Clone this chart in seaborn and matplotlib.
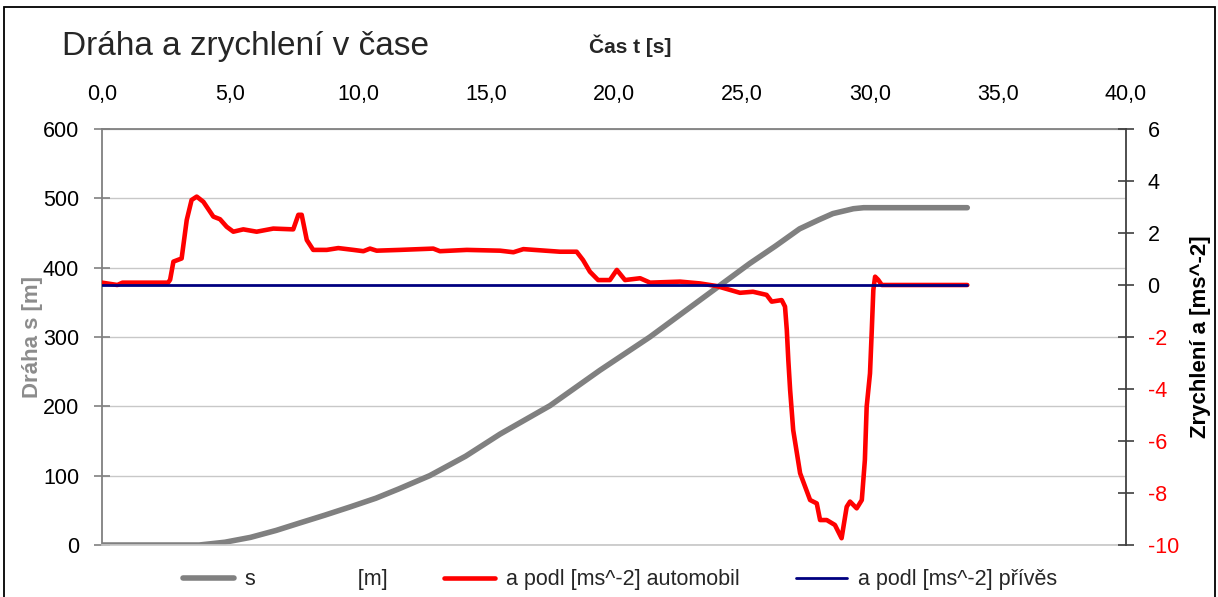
import matplotlib
matplotlib.use("Agg")
import matplotlib.pyplot as plt
import matplotlib.patches as patches
from matplotlib.ticker import FuncFormatter, MultipleLocator
import seaborn as sns
import pandas as pd

# ---- data ----
t_s = [0, 3.8, 4.8, 5.8, 6.8, 7.7, 8.7, 9.7, 10.7, 11.6, 12.8, 14.2, 15.55,
       17.5, 19.45, 21.4, 23.35, 25.3, 26.3, 27.25, 28.0, 28.55, 29.35, 29.75, 33.8]
s_m = [0, 0, 4, 11, 21, 31.5, 43, 55, 67.5, 81, 100, 128, 160,
       201, 252, 300, 353, 406, 431, 456, 469, 478, 485, 486.5, 486.5]

t_a = [0, 0.6, 0.8, 2.58, 2.66, 2.79, 3.11, 3.31, 3.50, 3.70, 3.96, 4.35, 4.61,
       4.87, 5.13, 5.52, 6.04, 6.69, 7.47, 7.67, 7.80, 8.00, 8.25, 8.78, 9.23,
       9.82, 10.21, 10.47, 10.73, 11.64, 12.94, 13.2, 14.25, 15.55, 16.07, 16.46,
       17.89, 18.54, 18.79, 19.06, 19.38, 19.84, 20.11, 20.43, 21.02, 21.41,
       22.58, 23.36, 24.01, 24.92, 25.43, 25.96, 26.16, 26.55, 26.68, 26.75,
       26.81, 26.88, 27.00, 27.27, 27.66, 27.92, 28.05, 28.31, 28.63, 28.89,
       29.09, 29.22, 29.48, 29.68, 29.80, 29.87, 30.0, 30.07, 30.13, 30.2,
       30.32, 30.46, 33.8]
a_auto = [0.09, 0.0, 0.09, 0.09, 0.2, 0.9, 1.02, 2.5, 3.27, 3.4, 3.2, 2.63, 2.53,
          2.24, 2.05, 2.14, 2.05, 2.17, 2.14, 2.7, 2.7, 1.73, 1.35, 1.35, 1.42,
          1.35, 1.30, 1.40, 1.32, 1.35, 1.40, 1.3, 1.35, 1.32, 1.26, 1.38,
          1.28, 1.28, 0.96, 0.51, 0.19, 0.19, 0.58, 0.19, 0.26, 0.09,
          0.13, 0.06, -0.04, -0.3, -0.26, -0.38, -0.64, -0.58, -0.83, -1.73,
          -2.9, -4.04, -5.58, -7.24, -8.27, -8.4, -9.04, -9.04, -9.23, -9.74,
          -8.53, -8.33, -8.59, -8.27, -6.73, -4.68, -3.4, -1.73, -0.19, 0.32,
          0.2, 0.0, 0.0]

t_b = [0, 33.8]
a_privs = [0, 0]

x_ticks = [0, 5, 10, 15, 20, 25, 30, 35, 40]

title = "Dráha a zrychlení v čase"
x_label = "Čas t [s]"
y_left_label = "Dráha s [m]"
y_right_label = "Zrychlení a [ms^-2]"
leg_s = "s" + " " * 17 + "[m]"
leg_auto = "a podl [ms^-2] automobil"
leg_priv = "a podl [ms^-2] přívěs"

# ---- styling ----
sns.set_theme(style="white")
plt.rcParams["font.family"] = ["Liberation Sans", "DejaVu Sans"]
plt.rcParams["axes.unicode_minus"] = False

W, H = 1218, 597
fig = plt.figure(figsize=(W / 100, H / 100), dpi=100)
ax = fig.add_axes([102 / W, 1 - 545 / H, (1126 - 102) / W, (545 - 129) / H])
ax2 = ax.twinx()

df_s = pd.DataFrame({"t": t_s, "s": s_m})
df_a = pd.DataFrame({"t": t_a, "a": a_auto})
df_b = pd.DataFrame({"t": t_b, "a": a_privs})

sns.lineplot(data=df_s, x="t", y="s", ax=ax, color="#808080", lw=4,
             estimator=None, sort=False, legend=False)
sns.lineplot(data=df_a, x="t", y="a", ax=ax2, color="#ff0000", lw=3.3,
             estimator=None, sort=False, legend=False)
sns.lineplot(data=df_b, x="t", y="a", ax=ax2, color="#000080", lw=2,
             estimator=None, sort=False, legend=False)

ax.set_xlim(0, 40)
ax.set_ylim(0, 600)
ax2.set_ylim(-10, 6)
ax.set_xticks(x_ticks)
ax.xaxis.set_major_formatter(FuncFormatter(lambda v, p: f"{v:.1f}".replace(".", ",")))
ax.yaxis.set_major_locator(MultipleLocator(100))
ax2.yaxis.set_major_locator(MultipleLocator(2))

ax.xaxis.tick_top()
ax.tick_params(axis="x", length=0, pad=17, labelsize=15.5, colors="black")
ax.tick_params(axis="y", direction="inout", length=11, width=1.2, color="#808080",
               labelsize=15.5, labelcolor="black", pad=11, left=True)
ax2.tick_params(axis="y", direction="inout", length=11, width=1.2, color="#404040",
                labelsize=15.5, labelcolor="black", pad=10, right=True)

ax.yaxis.grid(True, color="#c8c8c8", lw=1)
ax.xaxis.grid(False)
ax2.grid(False)

for sp in ["left", "top"]:
    ax.spines[sp].set_color("#808080")
    ax.spines[sp].set_linewidth(1.3)
ax.spines["bottom"].set_color("#c8c8c8")
ax.spines["right"].set_visible(False)
for sp in ["left", "top", "bottom"]:
    ax2.spines[sp].set_visible(False)
ax2.spines["right"].set_color("#404040")
ax2.spines["right"].set_linewidth(1.3)

ax.set_xlabel("")
ax.set_ylabel(y_left_label, fontsize=16, fontweight="bold", color="#8c8c8c", labelpad=0)
ax2.set_ylabel(y_right_label, fontsize=16, fontweight="bold", color="black", labelpad=8)

fig.canvas.draw()
for lbl, v in zip(ax2.get_yticklabels(), ax2.get_yticks()):
    if v < 0:
        lbl.set_color("#ff0000")

fig.text(62 / W, 1 - 46 / H, title, fontsize=24, va="center", ha="left")
fig.text(630 / W, 1 - 46 / H, x_label, fontsize=15, fontweight="bold", va="center", ha="center")

handles = [plt.Line2D([], [], color="#808080", lw=4),
           plt.Line2D([], [], color="#ff0000", lw=3.3),
           plt.Line2D([], [], color="#000080", lw=2)]
fig.legend(handles, [leg_s, leg_auto, leg_priv], loc="center", ncol=3,
           bbox_to_anchor=(620 / W, 1 - 580 / H), frameon=False, fontsize=15.5,
           handlelength=2.4, handletextpad=0.5, columnspacing=2.6)

fig.patches.append(patches.Rectangle((4 / W, -0.05), (1215 - 4) / W, 1 - 7 / H + 0.05,
                                     transform=fig.transFigure, fill=False,
                                     edgecolor="black", lw=1.3, clip_on=False))

fig.savefig("out.png", dpi=100)
